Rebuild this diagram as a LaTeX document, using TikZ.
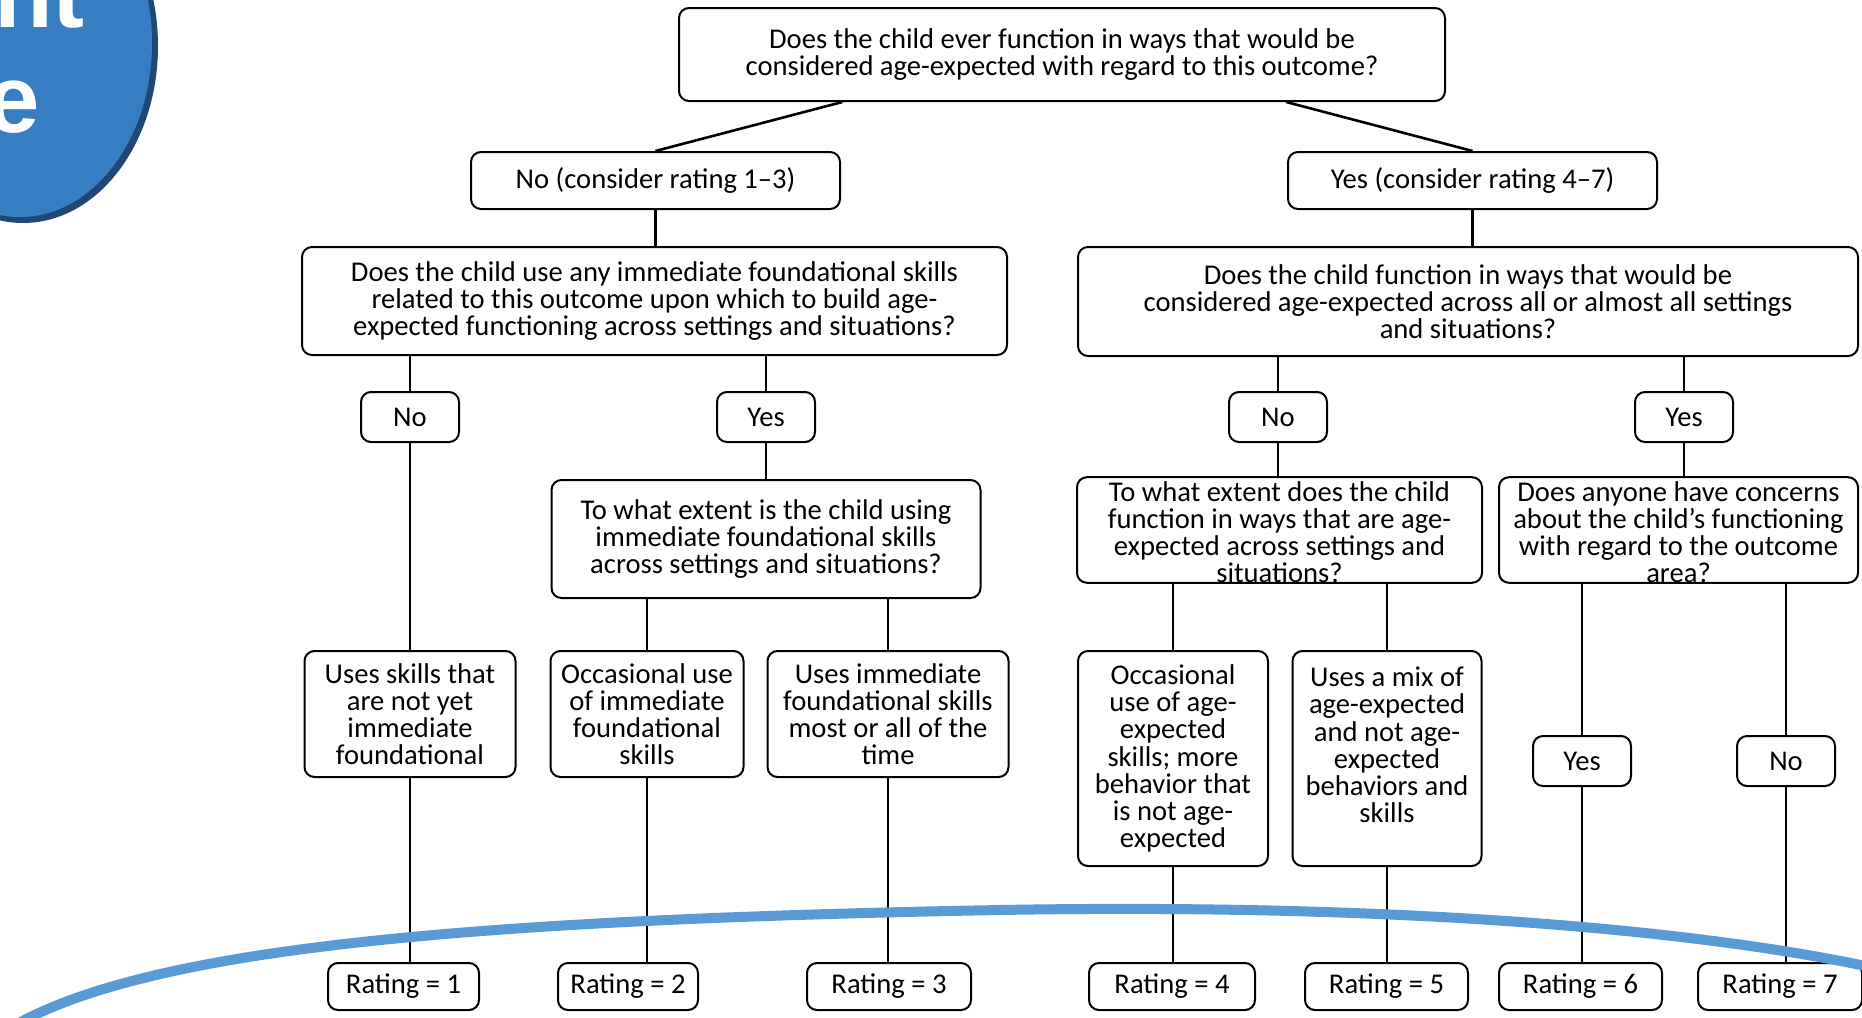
\documentclass[tikz,border=0pt]{standalone}
\usepackage{fontspec}
\setmainfont{Carlito}
\newfontfamily\headfont{Liberation Sans}
\usepackage{xcolor}
\usepackage{tikz}
\usetikzlibrary{calc}
\definecolor{curveblue}{RGB}{91,155,213}
\definecolor{discblue}{RGB}{55,125,193}
\definecolor{discedge}{RGB}{32,72,118}
\tikzstyle{box}=[draw=black,line width=1pt,rounded corners=5pt,fill=white,align=center,inner sep=0pt,font=\fontsize{14.3}{13.6}\selectfont]
\tikzstyle{small}=[box,minimum width=49pt,minimum height=25pt]
\tikzstyle{rating}=[box,minimum height=23.5pt]
\tikzstyle{link}=[line width=1.3pt]
\tikzstyle{head}=[text=white,anchor=base east,font=\headfont\bfseries\fontsize{48}{48}\selectfont]

\begin{document}
\begin{tikzpicture}[x=0.5pt,y=-0.5pt]
        \useasboundingbox (0,0) rectangle (1862,1017);
        \fill[white] (0,0) rectangle (1862,1017);

        \fill[discedge] (23,46) ellipse [x radius=67.5pt,y radius=88.5pt];
        \fill[discblue] (20,43) ellipse [x radius=66pt,y radius=87pt];
        \node at (92,27) [head] (headA) {nt};
        \node at (47,132) [head] (headB) {e};

        \node at (1062,54.5) [box,minimum width=383pt,minimum height=46.5pt] (top)
                {Does the child ever function in ways that would be\\considered age-expected with regard to this outcome?};
        \node at (655.5,180.5) [box,minimum width=184.5pt,minimum height=28.5pt] (no13) {No (consider rating 1–3)};
        \node at (1472.5,180.5) [box,minimum width=184.5pt,minimum height=28.5pt] (yes47) {Yes (consider rating 4–7)};

        \node at (654.5,301) [box,minimum width=352.5pt,minimum height=54pt] (q1)
                {Does the child use any immediate foundational skills\\related to this outcome upon which to build age-\\expected functioning across settings and situations?};
        \node at (1468,301.5) [box,minimum width=390pt,minimum height=54.5pt] (q2)
                {Does the child function in ways that would be\\considered age-expected across all or almost all settings\\and situations?};

        \node at (410,417) [small] (noA) {No};
        \node at (766,417) [small] (yesA) {Yes};
        \node at (1278,417) [small] (noB) {No};
        \node at (1684,417) [small] (yesB) {Yes};

        \node at (766,539) [box,minimum width=214.5pt,minimum height=59pt] (e1)
                {To what extent is the child using\\immediate foundational skills\\across settings and situations?};
        \node at (1279.5,530) [box,minimum width=202.5pt,text height=52.8pt,text depth=-2.8pt] (e2)
                {To what extent does the child\\function in ways that are age-\\expected across settings and\\situations?};
        \node at (1678.5,530) [box,minimum width=179.5pt,text height=52.8pt,text depth=-2.8pt] (cc)
                {Does anyone have concerns\\about the child’s functioning\\with regard to the outcome\\area?};

        \node at (410,714) [box,minimum width=105.5pt,minimum height=63pt] (l1)
                {Uses skills that\\are not yet\\immediate\\foundational};
        \node at (647,714) [box,minimum width=96.5pt,minimum height=63pt] (l2)
                {Occasional use\\of immediate\\foundational\\skills};
        \node at (888,714) [box,minimum width=120.5pt,minimum height=63pt] (l3)
                {Uses immediate\\foundational skills\\most or all of the\\time};
        \node at (1173,758.5) [box,minimum width=95pt,minimum height=107.5pt] (l4)
                {Occasional\\use of age-\\expected\\skills; more\\behavior that\\is not age-\\expected};
        \node at (1387,758.5) [box,minimum width=94.5pt,minimum height=107.5pt] (l5)
                {Uses a mix of\\age-expected\\and not age-\\expected\\behaviors and\\skills\\\mbox{}};
        \node at (1582,761) [small] (yesC) {Yes};
        \node at (1786,761) [small] (noC) {No};

        \node at (403.5,986.5) [rating,minimum width=75.5pt] (r1) {Rating = 1};
        \node at (628,986.5) [rating,minimum width=70pt] (r2) {Rating = 2};
        \node at (889,986.5) [rating,minimum width=82pt] (r3) {Rating = 3};
        \node at (1172,986.5) [rating,minimum width=83pt] (r4) {Rating = 4};
        \node at (1386.5,986.5) [rating,minimum width=81.5pt] (r5) {Rating = 5};
        \node at (1580.5,986.5) [rating,minimum width=81.5pt] (r6) {Rating = 6};
        \node at (1780,986.5) [rating,minimum width=82pt] (r7) {Rating = 7};

        \draw [link] ($(top.south west)!0.214!(top.south east)$) to (no13.north);
        \draw [link] ($(top.south west)!0.792!(top.south east)$) to (yes47.north);
        \draw [link] (no13.south) to (no13.south |- q1.north);
        \draw [link] (yes47.south) to (yes47.south |- q2.north);
        \draw [link] (noA.north |- q1.south) to (noA.north);
        \draw [link] (yesA.north |- q1.south) to (yesA.north);
        \draw [link] (noB.north |- q2.south) to (noB.north);
        \draw [link] (yesB.north |- q2.south) to (yesB.north);
        \draw [link] (noA.south) to (l1.north);
        \draw [link] (yesA.south) to (e1.north);
        \draw [link] (noB.south) to (noB.south |- e2.north);
        \draw [link] (yesB.south) to (yesB.south |- cc.north);
        \draw [link] (l2.north |- e1.south) to (l2.north);
        \draw [link] (l3.north |- e1.south) to (l3.north);
        \draw [link] (l4.north |- e2.south) to (l4.north);
        \draw [link] (l5.north |- e2.south) to (l5.north);
        \draw [link] (yesC.north |- cc.south) to (yesC.north);
        \draw [link] (noC.north |- cc.south) to (noC.north);
        \draw [link] (l1.south) to (l1.south |- r1.north);
        \draw [link] (l2.south) to (l2.south |- r2.north);
        \draw [link] (l3.south) to (l3.south |- r3.north);
        \draw [link] (l4.south) to (l4.south |- r4.north);
        \draw [link] (l5.south) to (l5.south |- r5.north);
        \draw [link] (yesC.south) to (yesC.south |- r6.north);
        \draw [link] (noC.south) to (noC.south |- r7.north);

        \draw [curveblue,line width=5pt] (15,1025) .. controls (150,950) and (450,920) .. (1000,910)
                .. controls (1400,903) and (1700,930) .. (1875,968);
\end{tikzpicture}
\end{document}
